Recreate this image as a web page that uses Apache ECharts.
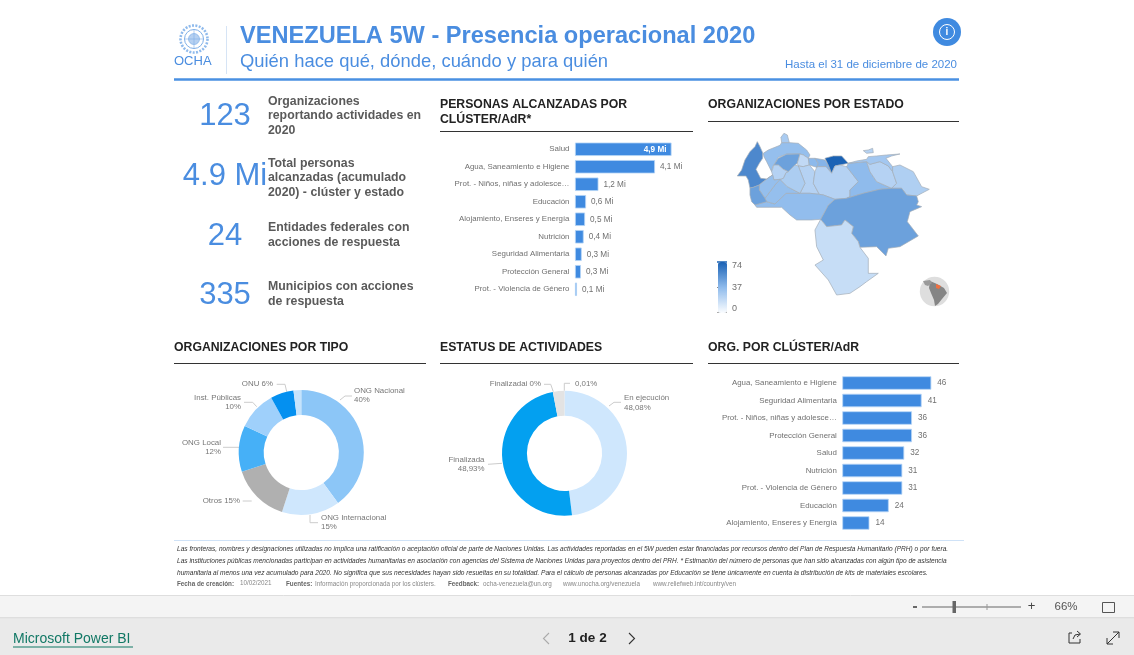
<!DOCTYPE html>
<html><head><meta charset="utf-8">
<style>html,body{margin:0;padding:0;background:#fff}#c{width:1134px;height:655px}</style>
<script src="https://cdn.jsdelivr.net/npm/echarts@6/dist/echarts.min.js"></script>
</head><body><div id="c"></div>
<script>
// ---------- data ----------
const clusterPeople = ['Salud','Agua, Saneamiento e Higiene','Prot. - Niños, niñas y adolesce…','Educación','Alojamiento, Enseres y Energía','Nutrición','Seguridad Alimentaria','Protección General','Prot. - Violencia de Género'];
const peopleValues = [4.9,4.06,1.19,0.56,0.51,0.44,0.34,0.30,0.10];
const clusterOrgs = ['Agua, Saneamiento e Higiene','Seguridad Alimentaria','Prot. - Niños, niñas y adolesce…','Protección General','Salud','Nutrición','Prot. - Violencia de Género','Educación','Alojamiento, Enseres y Energía'];
const orgValues = [46,41,36,36,32,31,31,24,14];
const typeNames = ['ONG Nacional','ONG Internacional','Otros','ONG Local','Inst. Públicas','ONU',''];
const typeValues = [40,15,15,12,10,6,2];
const typeLabels = ['ONG Nacional\n40%','ONG Internacional\n15%','Otros 15%','ONG Local\n12%','Inst. Públicas\n10%','ONU 6%',''];
const typeColors = ['#8cc6f7','#cfe7fd','#b0b0b0','#46b0f7','#9fd0fb','#0490f0','#c5e3fc'];
const statusNames = ['En ejecución','Finalizada','Finalizadai','Otro'];
const statusValues = [48.08,48.93,2.98,0.01];
const statusLabels = ['En ejecución\n48,08%','Finalizada\n48,93%','Finalizadai 0%','0,01%'];
const statusColors = ['#cfe7fd','#03a0f0','#e3e3e3','#e3e3e3'];
const stateNames = ['Zulia','Falcón','Paraguaná','Lara','Yaracuy','Carabobo','Cojedes','Aragua','Miranda','Guárico','Anzoátegui','Monagas','Sucre','Nueva Esparta','Delta Amacuro','Bolívar','Amazonas','Apure','Barinas','Portuguesa','Trujillo','Mérida','Táchira'];
const stateValues = [58,35,28,48,20,38,24,40,74,24,37,24,30,24,26,48,18,36,35,27,24,35,48];
// state outlines (tracing units: 1 unit = 0.0236 degrees)
const stateOutlines = {
 'Zulia':[[172,35],[180,50],[188,68],[188,85],[178,100],[168,118],[182,145],[200,147],[218,135],[190,155],[178,165],[160,172],[150,174],[145,150],[138,138],[112,138],[125,120],[135,90],[150,65],[165,50]],
 'Falcón':[[190,70],[205,60],[240,46],[245,38],[268,38],[295,40],[320,60],[330,75],[325,85],[310,75],[300,72],[260,72],[235,82],[225,100],[218,110],[215,125],[200,95],[192,80]],
 'Paraguaná':[[245,38],[243,22],[252,10],[262,15],[268,38]],
 'Lara':[[222,105],[235,85],[260,73],[300,72],[292,100],[285,105],[265,125],[250,118],[235,105]],
 'Yaracuy':[[292,100],[300,72],[310,75],[325,85],[328,105],[310,110],[295,108]],
 'Carabobo':[[325,85],[345,85],[355,100],[350,112],[328,105]],
 'Cojedes':[[295,108],[310,110],[328,105],[345,125],[340,160],[358,193],[330,190],[300,190],[315,160]],
 'Aragua':[[345,85],[375,90],[385,105],[395,130],[378,110],[355,110],[350,112],[355,100]],
 'Miranda':[[375,85],[400,78],[425,78],[445,100],[420,105],[405,108],[395,130],[385,105]],
 'Guárico':[[345,125],[350,112],[355,110],[378,110],[395,130],[405,108],[420,105],[440,110],[475,155],[450,180],[450,200],[440,205],[405,208],[370,195],[358,193],[340,160]],
 'Anzoátegui':[[440,110],[445,100],[500,95],[510,125],[530,155],[575,175],[540,178],[490,190],[440,205],[450,200],[450,180],[475,155]],
 'Monagas':[[500,95],[510,103],[540,95],[565,108],[578,125],[590,160],[575,175],[530,155],[510,125]],
 'Sucre':[[445,100],[470,93],[500,88],[505,80],[530,78],[560,75],[600,72],[575,78],[558,85],[570,100],[578,110],[578,125],[565,108],[540,95],[510,103],[500,95]],
 'Nueva Esparta':[[490,62],[505,60],[518,55],[520,68],[500,70]],
 'Delta Amacuro':[[578,110],[600,105],[640,125],[665,170],[688,178],[650,198],[620,195],[605,175],[575,175],[590,160],[578,125]],
 'Bolívar':[[362,268],[385,225],[405,208],[440,205],[490,190],[540,178],[575,175],[605,175],[620,195],[650,198],[655,215],[650,225],[665,230],[630,245],[622,275],[655,318],[600,350],[565,355],[558,378],[530,350],[480,352],[475,335],[455,310],[460,290],[435,270],[425,285],[380,290]],
 'Amazonas':[[362,268],[380,290],[425,285],[435,270],[460,290],[455,310],[475,335],[480,352],[505,385],[505,430],[535,430],[500,455],[480,470],[450,490],[410,495],[385,450],[345,405],[370,390],[350,350],[345,300]],
 'Apure':[[165,225],[200,215],[225,222],[258,190],[300,190],[330,190],[358,193],[370,195],[405,208],[385,225],[362,268],[335,270],[290,270],[270,255],[245,232],[210,232],[170,232]],
 'Barinas':[[195,205],[225,165],[240,148],[262,170],[300,190],[258,190],[225,222],[200,215]],
 'Portuguesa':[[250,145],[258,128],[265,125],[285,105],[295,108],[315,160],[300,190],[262,170],[240,148]],
 'Trujillo':[[215,125],[222,105],[235,105],[250,118],[265,125],[258,128],[250,145],[240,148],[222,150]],
 'Mérida':[[218,135],[222,150],[240,148],[225,165],[195,205],[178,180],[178,165],[190,155]],
 'Táchira':[[150,174],[160,172],[178,165],[178,180],[195,205],[200,215],[165,225],[155,215],[150,195]]
};
const kpiValues = ['123','4.9 Mi','24','335'];
const kpiTexts = [['Organizaciones','reportando actividades en','2020'],['Total personas','alcanzadas (acumulado','2020) - clúster y estado'],['Entidades federales con','acciones de respuesta'],['Municipios con acciones','de respuesta']];
const footerLines = ['Las fronteras, nombres y designaciones utilizadas no implica una ratificación o aceptación oficial de parte de Naciones Unidas. Las actividades reportadas en el 5W pueden estar financiadas por recursos dentro del Plan de Respuesta Humanitario (PRH) o por fuera.',
'Las instituciones públicas mencionadas participan en actividades humanitarias en asociación con agencias del Sistema de Naciones Unidas para proyectos dentro del PRH. * Estimación del número de personas que han sido alcanzadas con algún tipo de asistencia',
'humanitaria al menos una vez acumulado para 2020. No significa que sus necesidades hayan sido resueltas en su totalidad. Para el cálculo de personas alcanzadas por Educación se tiene únicamente en cuenta la distribución de kits de materiales escolares.'];

// ---------- layout ----------
const FF = '"Liberation Sans", Arial, sans-serif';
const BLUE = '#3f8ae0', TITLE = '#4a8de0', GREY = '#707070';
const features = stateNames.map(n => ({type:'Feature',properties:{name:n},geometry:{type:'Polygon',coordinates:[stateOutlines[n].concat([stateOutlines[n][0]]).map(p=>[-73.5+p[0]*0.0236,12.3-p[1]*0.0236])]}}));
echarts.registerMap('VEN',{type:'FeatureCollection',features});

const g = [];
const txt = (x,y,text,font,fill,align) => g.push({type:'text',silent:true,style:{x,y,text,font:font+' '+FF,fill,textAlign:align||'left',textVerticalAlign:'middle'}});
const line = (x1,y1,x2,y2,stroke,w) => g.push({type:'line',silent:true,shape:{x1,y1,x2,y2},style:{stroke,lineWidth:w||1}});
const rect = (x,y,width,height,fill,stroke) => g.push({type:'rect',silent:true,shape:{x,y,width,height},style:{fill,stroke:stroke||null}});
const circ = (cx,cy,r,fill,stroke,w,dash) => g.push({type:'circle',silent:true,shape:{cx,cy,r},style:{fill,stroke,lineWidth:w||1,lineDash:dash||null}});
const poly = (points,fill) => g.push({type:'polygon',silent:true,shape:{points},style:{fill}});
const polyl = (points,stroke,w) => g.push({type:'polyline',silent:true,shape:{points},style:{stroke,lineWidth:w||1,fill:null}});

// header
circ(194,39,9.5,'#fff','#7fb0e8',1);
circ(194,39,5.5,'#b5d0f1','#7fb0e8',0.7);
line(184.5,39,203.5,39,'#7fb0e8',.6); line(194,29.5,194,48.5,'#7fb0e8',.6);
circ(194,39,13.5,null,'#8fbaec',2.6,[2,1.4]);
txt(174,61.5,'OCHA','13px',TITLE);
line(226.5,26,226.5,74,'#d6e4f5',1);
txt(240,36.5,'VENEZUELA 5W - Presencia operacional 2020','bold 23.6px',TITLE);
txt(240,61.5,'Quién hace qué, dónde, cuándo y para quién','18.4px',TITLE);
txt(957,64.5,'Hasta el 31 de diciembre de 2020','11.5px',TITLE,'right');
line(174,79.5,959,79.5,'#4a90e2',2.5);
circ(947,32,14,BLUE,null);
circ(947,32,7.5,null,'#fff',1);
txt(947,32.5,'i','bold 10px','#fff','center');

// KPI
const kpiY = [116,176,236,295.5], kpiLineY = [[101.5,115.5,130.5],[163.5,177.5,192.5],[227.5,242.5],[286.5,301.5]];
kpiValues.forEach((v,i)=>{ txt(225,kpiY[i],v,'31px',TITLE,'center'); kpiTexts[i].forEach((t,j)=>txt(268,kpiLineY[i][j],t,'bold 12.3px','#5a5a5a')); });

// section headings
const head = (x,ys,lines,x2,ry) => { lines.forEach((t,i)=>txt(x,ys[i],t,'bold 12.25px','#222')); line(x,ry,x2,ry,'#333',1); };
head(440,[104.5,119.5],['PERSONAS ALCANZADAS POR','CLÚSTER/AdR*'],693,131.5);
head(708,[105],['ORGANIZACIONES POR ESTADO'],959,121.5);
head(174,[348],['ORGANIZACIONES POR TIPO'],426,363.5);
head(440,[348],['ESTATUS DE ACTIVIDADES'],693,363.5);
head(708,[348],['ORG. POR CLÚSTER/AdR'],959,363.5);

// map legend text
line(717,262,727,262,'#1a62b5',1.5); line(717,287.5,727,287.5,'#888',1); line(717,312.5,727,312.5,'#aaa',1);
txt(732,266,'74','9px',GREY); txt(732,288,'37','9px',GREY); txt(732,309,'0','9px',GREY);
// globe
circ(934.5,291.5,14.7,'#dedede',null);
poly([[930,281],[937,284],[944,288],[947,293],[942,299],[938,304],[935,306],[934,300],[931,293],[929,288]],'#858585');
poly([[923,281],[930,280],[932,283],[928,286],[925,285]],'#9a9a9a');
poly([[936,284],[941,286],[939,289],[936,288]],'#f07040');

// footer
line(174,540.5,964,540.5,'#cfe2f7',1);
[549.5,561.5,573].forEach((y,i)=>txt(177,y,footerLines[i],'italic 6.57px','#333'));
txt(177,584.5,'Fecha de creación:','bold 6.3px','#666');
txt(240,583,'10/02/2021','6.3px','#888');
txt(286,584.5,'Fuentes:','bold 6.3px','#666');
txt(315,584.5,'Información proporcionada por los clústers.','6.3px','#888');
txt(448,584.5,'Feedback:','bold 6.3px','#666');
txt(483,584.5,'ocha-venezuela@un.org','6.3px','#888');
txt(563,584.5,'www.unocha.org/venezuela','6.3px','#888');
txt(653,584.5,'www.reliefweb.int/country/ven','6.3px','#888');

// Power BI bars
rect(0,595,1134,23,'#f4f4f4'); line(0,595.5,1134,595.5,'#dedede',1); line(0,618,1134,618,'#c8c8c8',1.2);
rect(0,618.5,1134,36.5,'#eaeaea');
line(913,607,917,607,'#444',1.6); line(922,607,1021,607,'#666',1); line(987,604,987,610,'#999',1);
rect(952.5,601,3.5,12,'#666'); txt(1031.5,606.5,'+','13px','#444','center');
txt(1066,607,'66%','11.5px','#555','center');
rect(1102.5,602.5,12,10,null,'#555');
txt(13,639,'Microsoft Power BI','14px','#117865'); line(13,647,133,647,'#117865',1);
polyl([[549,633],[543.5,638.5],[549,644]],'#aaa',1.1); polyl([[629,633],[634.5,638.5],[629,644]],'#333',1.1);
txt(587.5,638.5,'1 de 2','bold 13.5px','#222','center');
polyl([[1072,633],[1069,633],[1069,643],[1080,643],[1080,639]],'#333',1);polyl([[1073,639],[1075,635],[1080,634]],'#333',1);polyl([[1077,631],[1080.5,634],[1077,637]],'#333',1);
line(1107,644,1119,632,'#333',1); polyl([[1107,638],[1107,644],[1113,644]],'#333',1); polyl([[1113,632],[1119,632],[1119,638]],'#333',1);

const axisX = (gi,max)=>({gridIndex:gi,type:'value',min:0,max,show:false});
const axisY = (gi,data)=>({gridIndex:gi,type:'category',data,inverse:true,axisLine:{show:false},axisTick:{show:false},axisLabel:{color:GREY,fontSize:7.9,fontFamily:FF,margin:5.5,interval:0}});
const barStyle = {color:BLUE,borderColor:'#b5d4f6',borderWidth:.8};

const labelPlaces = (places) => (p) => { const q = places[p.dataIndex]; return q ? {x:q[0],y:q[1],align:q[2],verticalAlign:'middle',labelLinePoints:q[3]} : {}; };
const typePlaces = [
 [354,395.5,'left',[[340,400],[345,396],[352,396]]],
 [321,522.5,'left',[[310,515],[310,522.7],[318,522.7]]],
 [240,501,'right',[[251.7,501],[251.7,501],[242.7,501]]],
 [221,447,'right',[[239,447.3],[239,447.3],[223,447.3]]],
 [241,402.5,'right',[[256.7,406.7],[252.7,402.3],[244,402.3]]],
 [273,384,'right',[[286.7,391.7],[285,384.3],[276.7,384.3]]],null];
const statusPlaces = [
 [624,402.8,'left',[[609,406],[614,402.3],[621,402.3]]],
 [484.5,464.5,'right',[[502,463.3],[502,463.3],[488,464.3]]],
 [541,384,'right',[[553.3,391.7],[550.7,384.3],[544,384.3]]],
 [575,383.5,'left',[[564.3,390.7],[564.3,383.3],[570,383.3]]]];
const pieLabel = {show:true,color:'#777',fontSize:7.9,fontFamily:FF,lineHeight:9.3};
const pie = (center,names,values,labels,colors,places) => ({
  type:'pie',center,radius:[37.6,62.5],startAngle:90,clockwise:true,silent:true,animation:false,
  label:pieLabel,labelLine:{show:true,length:6,length2:10,lineStyle:{color:'#ccc',width:1},smooth:false},
  labelLayout:labelPlaces(places),
  data:names.map((n,i)=>({name:n,value:values[i],itemStyle:{color:colors[i]},label:{formatter:labels[i],show:!!labels[i]},labelLine:{show:!!labels[i]}}))
});

const option = {
  animation:false,
  backgroundColor:'#fff',
  grid:[{left:575,top:140.5,width:118.2,height:157.5},{left:842.3,top:374.25,width:116.1,height:157.5}],
  xAxis:[axisX(0,6),axisX(1,60)],
  yAxis:[axisY(0,clusterPeople),axisY(1,clusterOrgs)],
  visualMap:[{type:'continuous',seriesIndex:2,min:0,max:74,left:703,top:247,itemWidth:9,itemHeight:51,text:null,calculable:false,realtime:false,inRange:{color:['#fbfdff','#8fbbec','#1a62b5']}}],
  series:[
    {type:'bar',xAxisIndex:0,yAxisIndex:0,barWidth:13.4,silent:true,itemStyle:barStyle,
     data:peopleValues.map((v,i)=>({value:v,label:i===0?{position:'insideRight',color:'#fff',fontWeight:'bold',distance:5}:{}})),
     label:{show:true,position:'right',distance:5,color:GREY,fontSize:8.2,fontFamily:FF,formatter:p=>p.value.toFixed(1).replace('.',',')+' Mi'}},
    {type:'bar',xAxisIndex:1,yAxisIndex:1,barWidth:13.4,silent:true,itemStyle:barStyle,data:orgValues,
     label:{show:true,position:'right',distance:6,color:GREY,fontSize:8.2,fontFamily:FF}},
    {type:'map',map:'VEN',left:737.3,top:133.3,width:192,height:161.7,aspectScale:1,silent:true,roam:false,label:{show:false},
     itemStyle:{borderColor:'#a4adb8',borderWidth:.7},emphasis:{disabled:true},select:{disabled:true},
     data:stateNames.map((n,i)=>({name:n,value:stateValues[i]}))},
    pie(['301.3','452.5'],typeNames,typeValues,typeLabels,typeColors,typePlaces),
    pie(['564.5','453.3'],statusNames,statusValues,statusLabels,statusColors,statusPlaces)
  ],
  graphic:g
};
echarts.init(document.getElementById('c'),null,{renderer:'canvas'}).setOption(option);
</script></body></html>
